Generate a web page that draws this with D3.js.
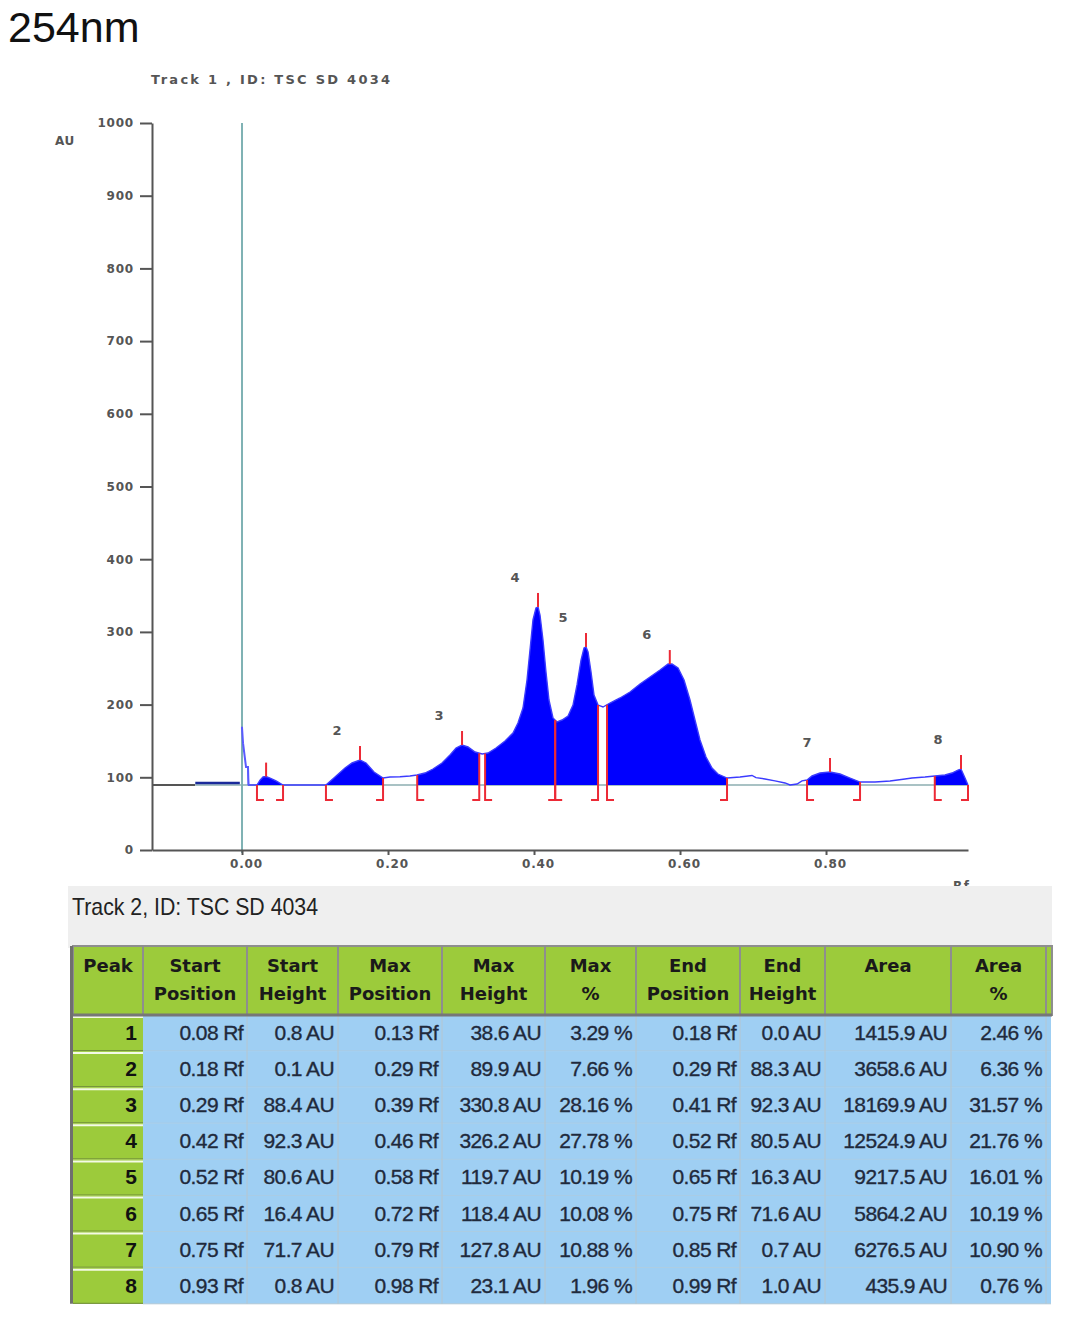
<!DOCTYPE html>
<html>
<head>
<meta charset="utf-8">
<script src="https://cdn.jsdelivr.net/npm/d3@7"></script>
<style>
  body { margin: 0; background: #fff; }
  .axis text { font-family: "DejaVu Sans", Verdana, sans-serif; font-weight: bold; font-size: 12px; fill: #555; letter-spacing: 0.8px; }
  .axis path, .axis line { stroke: #555; stroke-width: 2; }
</style>
</head>
<body>
<div id="chart"></div>
<script>
// densitogram trace (track 1): Rf and AU
var traceRf = [-0.064, -0.003, -0.0014, 0.0, 0.0014, 0.0055, 0.0082, 0.0089, 0.0205, 0.0247, 0.0288, 0.0329, 0.0384, 0.0466, 0.0562,
  0.1150, 0.1274, 0.1411, 0.1507, 0.1616, 0.1699, 0.1808, 0.1932, 0.2027, 0.2164, 0.2300, 0.2397,
  0.2507, 0.2616, 0.2740, 0.2849, 0.2932, 0.3014, 0.3096, 0.3192, 0.3290, 0.3370, 0.3480, 0.3603, 0.3712, 0.3780,
  0.3849, 0.3904, 0.3945, 0.3986, 0.4027, 0.4055, 0.4082, 0.4123, 0.4164, 0.4205, 0.4260, 0.4315, 0.4384, 0.4466,
  0.4534, 0.4589, 0.4644, 0.4685, 0.4712, 0.4740, 0.4781, 0.4822, 0.4877, 0.4945, 0.5041, 0.5178, 0.5315, 0.5452,
  0.5589, 0.5726, 0.5836, 0.5890, 0.5973, 0.6055, 0.6137, 0.6205, 0.6274, 0.6356, 0.6438, 0.6520, 0.6644,
  0.6822, 0.6986, 0.7041, 0.7164, 0.7301, 0.7438, 0.7507, 0.7603, 0.7671, 0.7740,
  0.7808, 0.7918, 0.8055, 0.8192, 0.8329, 0.8466, 0.8671, 0.8877, 0.9082, 0.9178, 0.9356, 0.9493,
  0.9630, 0.9726, 0.9808, 0.9849, 0.9904, 0.9945];
var traceAU = [92, 92, 168, 168, 147, 114, 114, 89.4, 89.4, 96, 100.4, 101, 99, 95, 89.4,
  89.4, 100.4, 112.8, 119.7, 123.8, 119.7, 107.3, 99, 100.4, 100.8, 101.8, 103.2,
  105.9, 111.4, 119.7, 130.7, 140.3, 144.4, 141.7, 134.8, 132, 133.4, 140.3, 149.9, 160.9, 174.7,
  195.3, 233.8, 275.1, 316.4, 332.9, 334.3, 323.2, 288.9, 244.8, 206.3, 181.6, 176.1, 178.8, 184.3,
  199.4, 227, 261.3, 277.9, 279.2, 272.4, 244.8, 213.2, 199.4, 196.7, 202.2, 209.1, 217.3, 228.3,
  238, 247.6, 255.8, 255.8, 250.3, 233.8, 206.3, 178.8, 151.3, 127.9, 112.8, 104.5, 99,
  100.4, 102.5, 99.6, 97.7, 95, 92.2, 89.4, 90.8, 95, 96.3,
  101.8, 105.9, 107.3, 104.5, 99, 93.5, 93.5, 95, 97.7, 99, 100.4, 101.8,
  103.2, 105.9, 110, 111.4, 99, 89.4];
var baseAU = 89.4;

// integrated peaks on the trace
var peakLabel = ["", "2", "3", "4", "5", "6", "7", "8"];
var peakStart = [0.0205, 0.115, 0.240, 0.333, 0.429, 0.500, 0.774, 0.949];
var peakMax = [0.033, 0.1616, 0.3014, 0.4055, 0.4712, 0.586, 0.8055, 0.9849];
var peakEnd = [0.0562, 0.1932, 0.325, 0.429, 0.4877, 0.6644, 0.8466, 0.9945];

var yTicks = [0, 100, 200, 300, 400, 500, 600, 700, 800, 900, 1000];
var xTicks = [0, 0.2, 0.4, 0.6, 0.8];

// table (track 2)
var headers = [["Peak"], ["Start", "Position"], ["Start", "Height"], ["Max", "Position"], ["Max", "Height"],
  ["Max", "%"], ["End", "Position"], ["End", "Height"], ["Area"], ["Area", "%"]];
var peakNo = [1, 2, 3, 4, 5, 6, 7, 8];
var startPos = [0.08, 0.18, 0.29, 0.42, 0.52, 0.65, 0.75, 0.93];
var startHeight = [0.8, 0.1, 88.4, 92.3, 80.6, 16.4, 71.7, 0.8];
var maxPos = [0.13, 0.29, 0.39, 0.46, 0.58, 0.72, 0.79, 0.98];
var maxHeight = [38.6, 89.9, 330.8, 326.2, 119.7, 118.4, 127.8, 23.1];
var maxPct = [3.29, 7.66, 28.16, 27.78, 10.19, 10.08, 10.88, 1.96];
var endPos = [0.18, 0.29, 0.41, 0.52, 0.65, 0.75, 0.85, 0.99];
var endHeight = [0.0, 88.3, 92.3, 80.5, 16.3, 71.6, 0.7, 1.0];
var area = [1415.9, 3658.6, 18169.9, 12524.9, 9217.5, 5864.2, 6276.5, 435.9];
var areaPct = [2.46, 6.36, 31.57, 21.76, 16.01, 10.19, 10.90, 0.76];

var svg = d3.select("#chart").append("svg")
  .attr("width", 1067)
  .attr("height", 1317);

svg.append("text")
  .attr("x", 8).attr("y", 42)
  .style("font-family", "'Liberation Sans', Arial, sans-serif")
  .style("font-size", "43px")
  .style("fill", "#111")
  .text("254nm");

svg.append("text")
  .attr("x", 151).attr("y", 84)
  .attr("textLength", 239)
  .style("font-family", "'DejaVu Sans', Verdana, sans-serif")
  .style("font-weight", "bold")
  .style("font-size", "13px")
  .style("fill", "#555")
  .text("Track  1 , ID: TSC SD 4034");

var x = d3.scaleLinear().domain([-0.1233, 0.9945]).range([152, 968]);
var y = d3.scaleLinear().domain([0, 1000]).range([850, 123]);
var auAt = d3.scaleLinear().domain(traceRf).range(traceAU);

// baseline
svg.append("line")
  .attr("x1", x(-0.1233)).attr("x2", x(-0.064))
  .attr("y1", y(baseAU)).attr("y2", y(baseAU))
  .attr("stroke", "#555").attr("stroke-width", 2);
svg.append("line")
  .attr("x1", x(-0.064)).attr("x2", x(0.9945))
  .attr("y1", y(baseAU)).attr("y2", y(baseAU))
  .attr("stroke", "#a9c2c4").attr("stroke-width", 2);

// start line (Rf 0)
svg.append("line")
  .attr("x1", x(0)).attr("x2", x(0))
  .attr("y1", y(1000)).attr("y2", 853)
  .attr("stroke", "#7fb2b4").attr("stroke-width", 2);

// filled peaks
function segment(a, b) {
  var pts = [[a, auAt(a)]];
  traceRf.forEach(function(r, i) {
    if (r > a && r < b) pts.push([r, traceAU[i]]);
  });
  pts.push([b, auAt(b)]);
  return pts;
}

var areaGen = d3.area()
  .x(d => x(d[0]))
  .y0(y(baseAU))
  .y1(d => y(d[1]));

peakStart.forEach(function(s, i) {
  svg.append("path")
    .attr("d", areaGen(segment(s, peakEnd[i])))
    .attr("fill", "#0000ff");
});

// trace outline
var lineGen = d3.line().x(d => x(d[0])).y(d => y(d[1]));
var pts = traceRf.map((r, i) => [r, traceAU[i]]);
svg.append("path")
  .attr("d", lineGen(pts.filter(d => d[0] > 0.008)))
  .attr("fill", "none").attr("stroke", "#3b3bff").attr("stroke-width", 1.4);
svg.append("path")
  .attr("d", lineGen(pts.filter(d => d[0] >= -0.0014 && d[0] <= 0.009)))
  .attr("fill", "none").attr("stroke", "#5a5aff").attr("stroke-width", 2);
svg.append("path")
  .attr("d", lineGen(pts.filter(d => d[0] <= -0.003)))
  .attr("fill", "none").attr("stroke", "#1a2a9a").attr("stroke-width", 2.5);

// red peak markers
var red = "#ec2a36";
var foot = y(baseAU) + 15;
peakStart.forEach(function(s, i) {
  var e = peakEnd[i], m = peakMax[i];
  svg.append("path")
    .attr("d", `M${x(s)},${y(auAt(s))}V${foot}h7`)
    .attr("fill", "none").attr("stroke", red).attr("stroke-width", 2);
  svg.append("path")
    .attr("d", `M${x(e)},${y(auAt(e))}V${foot}h-7`)
    .attr("fill", "none").attr("stroke", red).attr("stroke-width", 2);
  svg.append("line")
    .attr("x1", x(m)).attr("x2", x(m))
    .attr("y1", y(auAt(m))).attr("y2", y(auAt(m)) - 14)
    .attr("stroke", red).attr("stroke-width", 2);
  svg.append("text")
    .attr("x", x(m) - 23).attr("y", y(auAt(m)) - 25)
    .attr("text-anchor", "middle")
    .style("font-family", "'DejaVu Sans', Verdana, sans-serif")
    .style("font-weight", "bold").style("font-size", "13px")
    .style("fill", "#555")
    .text(peakLabel[i]);
});

// axes
var yAxis = svg.append("g")
  .attr("class", "axis")
  .attr("transform", "translate(152,0)")
  .call(d3.axisLeft(y).tickValues(yTicks).tickFormat(d3.format("d")).tickSize(12).tickSizeOuter(0).tickPadding(6));

var xAxis = svg.append("g")
  .attr("class", "axis")
  .attr("transform", "translate(0,850)")
  .call(d3.axisBottom(x).tickValues(xTicks).tickFormat(d3.format(".2f")).tickSize(5).tickSizeOuter(0).tickPadding(4));
xAxis.selectAll("text").attr("dx", 4);

svg.append("text")
  .attr("x", 55).attr("y", 145)
  .style("font-family", "'DejaVu Sans', Verdana, sans-serif")
  .style("font-weight", "bold").style("font-size", "12px")
  .style("letter-spacing", "0.5px").style("fill", "#555")
  .text("AU");

svg.append("text")
  .attr("x", 953).attr("y", 890)
  .style("font-family", "'DejaVu Sans', Verdana, sans-serif")
  .style("font-weight", "bold").style("font-size", "12px")
  .style("letter-spacing", "1.5px").style("fill", "#555")
  .text("Rf");

// table panel
svg.append("rect")
  .attr("x", 68).attr("y", 886).attr("width", 984).attr("height", 62)
  .attr("fill", "#efefef");

svg.append("text")
  .attr("x", 72).attr("y", 915)
  .attr("textLength", 246).attr("lengthAdjust", "spacingAndGlyphs")
  .style("font-family", "'Liberation Sans', Arial, sans-serif")
  .style("font-size", "24px").style("fill", "#222")
  .text("Track 2, ID: TSC SD 4034");

var colEdges = [73, 143, 247, 338, 442, 545, 636, 740, 825, 951, 1046];
var headTop = 946, headBot = 1015, rowH = 36.1;
var green = "#9ccb3b", blue = "#9fcff3";

var rows = peakNo.map(function(p, i) {
  return [String(p),
    startPos[i].toFixed(2) + " Rf", startHeight[i].toFixed(1) + " AU",
    maxPos[i].toFixed(2) + " Rf", maxHeight[i].toFixed(1) + " AU", maxPct[i].toFixed(2) + " %",
    endPos[i].toFixed(2) + " Rf", endHeight[i].toFixed(1) + " AU",
    area[i].toFixed(1) + " AU", areaPct[i].toFixed(2) + " %"];
});

var tableBot = headBot + rowH * rows.length;

// data cells
rows.forEach(function(r, i) {
  var top = headBot + i * rowH;
  svg.append("rect")
    .attr("x", colEdges[1]).attr("y", top).attr("width", 1051 - colEdges[1]).attr("height", rowH)
    .attr("fill", blue);
  svg.append("line")
    .attr("x1", colEdges[1]).attr("x2", 1051).attr("y1", top + rowH).attr("y2", top + rowH)
    .attr("stroke", "#b3c9d6").attr("stroke-width", 1);
  // peak cell
  svg.append("rect")
    .attr("x", colEdges[0]).attr("y", top).attr("width", colEdges[1] - colEdges[0]).attr("height", rowH)
    .attr("fill", green);
  svg.append("line")
    .attr("x1", colEdges[0]).attr("x2", colEdges[1]).attr("y1", top + 2).attr("y2", top + 2)
    .attr("stroke", "#f4fae6").attr("stroke-width", 2);
  svg.append("line")
    .attr("x1", colEdges[0]).attr("x2", colEdges[1]).attr("y1", top + rowH - 0.5).attr("y2", top + rowH - 0.5)
    .attr("stroke", "#6e8a3a").attr("stroke-width", 1);
  r.forEach(function(t, j) {
    svg.append("text")
      .attr("x", colEdges[j + 1] - (j === 0 ? 6 : 4))
      .attr("y", top + rowH / 2 + 7)
      .attr("text-anchor", "end")
      .style("font-family", "'Liberation Sans', Arial, sans-serif")
      .style("font-size", "21px")
      .style("letter-spacing", j === 0 ? "0px" : "-0.6px")
      .style("font-weight", j === 0 ? "bold" : "normal")
      .style("fill", j === 0 ? "#111" : "#1f2a3c")
      .style("stroke", j === 0 ? "none" : "#1f2a3c")
      .style("stroke-width", 0.35)
      .text(t);
  });
});

// faint vertical separators in data area
colEdges.slice(2).forEach(function(cx) {
  svg.append("line")
    .attr("x1", cx).attr("x2", cx).attr("y1", headBot).attr("y2", tableBot)
    .attr("stroke", "#b5c6d0").attr("stroke-width", 1);
});

// header cells
var headEdges = colEdges.concat([1052]);
headEdges.slice(0, -1).forEach(function(cx, j) {
  svg.append("rect")
    .attr("x", cx).attr("y", headTop).attr("width", headEdges[j + 1] - cx).attr("height", headBot - headTop)
    .attr("fill", green).attr("stroke", "#8e8e8e").attr("stroke-width", 2);
  if (j < headers.length) {
    headers[j].forEach(function(t, k) {
      svg.append("text")
        .attr("x", (cx + headEdges[j + 1]) / 2)
        .attr("y", headTop + 26 + k * 28)
        .attr("text-anchor", "middle")
        .style("font-family", "'DejaVu Sans', Verdana, sans-serif")
        .style("font-weight", "bold").style("font-size", "18px")
        .style("fill", "#1a1a1a")
        .text(t);
    });
  }
});
svg.append("line")
  .attr("x1", 70).attr("x2", 1052).attr("y1", headBot).attr("y2", headBot)
  .attr("stroke", "#777").attr("stroke-width", 3);

// left border
svg.append("line")
  .attr("x1", 71.5).attr("x2", 71.5).attr("y1", headTop).attr("y2", tableBot)
  .attr("stroke", "#6f6f6f").attr("stroke-width", 3);
</script>
</body>
</html>
